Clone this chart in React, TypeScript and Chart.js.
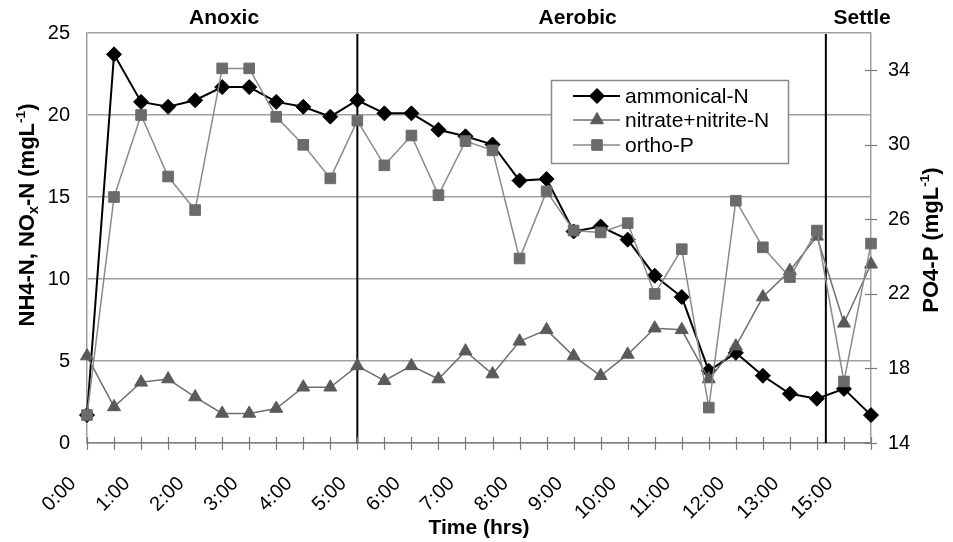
import React, { useEffect, useRef } from 'react';
import { Chart, registerables } from 'chart.js';
import { drawPoint } from 'chart.js/helpers';

Chart.register(...registerables);

// 30 sampling points; labels shown on every second one
const categories = [
  '0:00', '', '1:00', '', '2:00', '', '3:00', '', '4:00', '', '5:00', '', '6:00', '', '7:00', '',
  '8:00', '', '9:00', '', '10:00', '', '11:00', '', '12:00', '', '13:00', '', '15:00', '',
];

const ammonicalN = [
  1.7, 23.7, 20.8, 20.5, 20.9, 21.7, 21.7, 20.8, 20.5, 19.9, 20.9, 20.1, 20.1, 19.1, 18.7,
  18.2, 16.0, 16.1, 12.9, 13.2, 12.4, 10.2, 8.9, 4.4, 5.5, 4.1, 3.0, 2.7, 3.3, 1.7,
];
const nitrateNitriteN = [
  5.3, 2.2, 3.7, 3.9, 2.8, 1.8, 1.8, 2.1, 3.4, 3.4, 4.7, 3.8, 4.7, 3.9, 5.6,
  4.2, 6.2, 6.9, 5.3, 4.1, 5.4, 7.0, 6.9, 3.9, 5.9, 8.9, 10.5, 12.6, 7.3, 10.9,
];
const orthoP = [
  15.5, 27.2, 31.6, 28.3, 26.5, 34.1, 34.1, 31.5, 30.0, 28.2, 31.3, 28.9, 30.5, 27.3, 30.2,
  29.7, 23.9, 27.5, 25.4, 25.3, 25.8, 22.0, 24.4, 15.9, 27.0, 24.5, 22.9, 25.4, 17.3, 24.7,
];

const leftTicks = [0, 5, 10, 15, 20, 25];
const rightTicks = [14, 18, 22, 26, 30, 34];

// phase boundaries and phase names (positions in category-index units)
const phaseBoundaries = [10, 27.33];
const phaseNames = ['Anoxic', 'Aerobic', 'Settle'];
const phaseNamePositions = [5.07, 18.15, 28.67];

const seriesNames = ['ammonical-N', 'nitrate+nitrite-N', 'ortho-P'];

const FONT = '"Liberation Sans", Arial, Helvetica, sans-serif';

const styles = [
  { line: '#000000', fill: '#000000', point: 'rectRot', radius: 7.5, lw: 2 },
  { line: '#6e6e6e', fill: '#5a5a5a', point: 'triangle', radius: 7.5, lw: 1.5 },
  { line: '#8a8a8a', fill: '#6b6b6b', point: 'rect', radius: 7.5, lw: 1.5 },
];

type Seg = { t: string; scale?: number; shift?: number };

function drawRich(ctx: CanvasRenderingContext2D, segs: Seg[], cx: number, cy: number, angle: number, size: number, weight: string) {
  ctx.save();
  ctx.translate(cx, cy);
  ctx.rotate(angle);
  ctx.textAlign = 'left';
  ctx.textBaseline = 'alphabetic';
  ctx.fillStyle = '#000';
  let total = 0;
  const widths = segs.map((s) => {
    ctx.font = `${weight} ${size * (s.scale || 1)}px ${FONT}`;
    const w = ctx.measureText(s.t).width;
    total += w;
    return w;
  });
  let x = -total / 2;
  segs.forEach((s, i) => {
    ctx.font = `${weight} ${size * (s.scale || 1)}px ${FONT}`;
    ctx.fillText(s.t, x, size * 0.36 + (s.shift || 0) * size);
    x += widths[i];
  });
  ctx.restore();
}

const overlayPlugin = {
  id: 'overlay',
  beforeDatasetsDraw(chart: any) {
    const ctx = chart.ctx as CanvasRenderingContext2D;
    const { top, bottom } = chart.chartArea;
    const xs = chart.scales.x;
    ctx.save();
    ctx.strokeStyle = '#000';
    ctx.lineWidth = 2;
    phaseBoundaries.forEach((b) => {
      const px = xs.getPixelForValue(b);
      ctx.beginPath();
      ctx.moveTo(px, top + 1);
      ctx.lineTo(px, bottom);
      ctx.stroke();
    });
    ctx.restore();
  },
  afterDraw(chart: any) {
    const ctx = chart.ctx as CanvasRenderingContext2D;
    const { bottom, left, right } = chart.chartArea;
    const xs = chart.scales.x;
    const y1 = chart.scales.y1;
    ctx.save();
    // x tick marks crossing the axis
    ctx.strokeStyle = '#7a7a7a';
    ctx.lineWidth = 1.2;
    for (let i = 0; i < categories.length; i++) {
      const px = Math.round(xs.getPixelForValue(i)) + 0.5;
      ctx.beginPath();
      ctx.moveTo(px, bottom - 6);
      ctx.lineTo(px, bottom + 7);
      ctx.stroke();
    }
    // right axis tick marks
    rightTicks.forEach((v) => {
      const py = Math.round(y1.getPixelForValue(v)) + 0.5;
      ctx.beginPath();
      ctx.moveTo(right - 6, py);
      ctx.lineTo(right + 6, py);
      ctx.stroke();
    });

    // phase names
    ctx.fillStyle = '#000';
    ctx.font = `bold 21px ${FONT}`;
    ctx.textAlign = 'center';
    ctx.textBaseline = 'middle';
    phaseNames.forEach((n, i) => {
      ctx.fillText(n, xs.getPixelForValue(phaseNamePositions[i]), 18);
    });

    // legend
    const lx = 551, ly = 80, lw = 237, lh = 83;
    ctx.fillStyle = '#fff';
    ctx.fillRect(lx, ly, lw, lh);
    ctx.strokeStyle = '#8a8a8a';
    ctx.lineWidth = 1.5;
    ctx.strokeRect(lx + 0.5, ly + 0.5, lw, lh);
    const rows = [96, 120, 145];
    seriesNames.forEach((name, i) => {
      const st = styles[i];
      const ry = rows[i];
      ctx.strokeStyle = st.line;
      ctx.lineWidth = st.lw;
      ctx.beginPath();
      ctx.moveTo(573, ry);
      ctx.lineTo(620, ry);
      ctx.stroke();
      ctx.fillStyle = st.fill;
      ctx.strokeStyle = st.fill;
      ctx.lineWidth = 1;
      drawPoint(ctx, { pointStyle: st.point as any, radius: st.radius, rotation: 0, borderWidth: 1 }, 597, ry);
      ctx.fillStyle = '#000';
      ctx.font = `21px ${FONT}`;
      ctx.textAlign = 'left';
      ctx.textBaseline = 'middle';
      ctx.fillText(name, 625, ry + 1);
    });

    // axis titles
    drawRich(
      ctx,
      [{ t: 'NH4-N, NO' }, { t: 'x', scale: 0.65, shift: 0.2 }, { t: '-N (mgL' }, { t: '-1', scale: 0.62, shift: -0.42 }, { t: ')' }],
      26, 215, -Math.PI / 2, 22, 'bold'
    );
    drawRich(
      ctx,
      [{ t: 'PO4-P (mgL' }, { t: '-1', scale: 0.62, shift: -0.42 }, { t: ')' }],
      930, 240, -Math.PI / 2, 22, 'bold'
    );
    drawRich(ctx, [{ t: 'Time (hrs)' }], (left + right) / 2, 526, 0, 21, 'bold');
    ctx.restore();
  },
};

export default function App() {
  const ref = useRef<HTMLCanvasElement | null>(null);
  useEffect(() => {
    if (!ref.current) return;
    const mk = (i: number, data: number[], axis: string, order: number) => ({
      label: seriesNames[i],
      data,
      yAxisID: axis,
      order,
      borderColor: styles[i].line,
      borderWidth: styles[i].lw,
      backgroundColor: styles[i].fill,
      pointBackgroundColor: styles[i].fill,
      pointBorderColor: styles[i].fill,
      pointBorderWidth: 1,
      pointStyle: styles[i].point,
      pointRadius: styles[i].radius,
      tension: 0,
      clip: false as any,
    });
    const chart = new Chart(ref.current, {
      type: 'line',
      data: {
        labels: categories,
        datasets: [
          mk(0, ammonicalN, 'y', 3),
          mk(1, nitrateNitriteN, 'y', 2),
          mk(2, orthoP, 'y1', 1),
        ] as any,
      },
      options: {
        responsive: false,
        animation: false,
        layout: { padding: { top: 33, left: 0, right: 0, bottom: 0 } },
        plugins: { legend: { display: false }, tooltip: { enabled: false } },
        scales: {
          x: {
            type: 'category',
            offset: false,
            grid: { display: false },
            border: { display: true, color: '#808080', width: 1.5 },
            ticks: {
              autoSkip: false,
              maxRotation: 45,
              minRotation: 45,
              labelOffset: -14,
              padding: 21,
              color: '#000',
              font: { family: FONT, size: 20 },
              callback: (_v: any, i: number) => categories[i],
            },
            afterFit: (s: any) => { s.height = 99; },
          },
          y: {
            type: 'linear',
            position: 'left',
            min: 0,
            max: 25,
            afterBuildTicks: (s: any) => { s.ticks = leftTicks.map((v) => ({ value: v })); },
            grid: { color: '#a0a0a0', lineWidth: 1.5, drawTicks: false },
            border: { display: true, color: '#a0a0a0', width: 1.5 },
            ticks: { padding: 17, color: '#000', font: { family: FONT, size: 20 } },
            afterFit: (s: any) => { s.width = 87; },
          },
          y1: {
            type: 'linear',
            position: 'right',
            min: 14,
            max: 36,
            afterBuildTicks: (s: any) => { s.ticks = rightTicks.map((v) => ({ value: v })); },
            grid: { drawOnChartArea: false, drawTicks: false },
            border: { display: true, color: '#a0a0a0', width: 1.5 },
            ticks: { padding: 17, color: '#000', font: { family: FONT, size: 20 } },
            afterFit: (s: any) => { s.width = 82; },
          },
        },
      } as any,
      plugins: [overlayPlugin],
    });
    return () => chart.destroy();
  }, []);
  return (
    <div style={{ position: 'absolute', left: 0, top: 0, width: 953, height: 542, background: '#fff' }}>
      <canvas ref={ref} width={953} height={542} style={{ display: 'block' }} />
    </div>
  );
}
